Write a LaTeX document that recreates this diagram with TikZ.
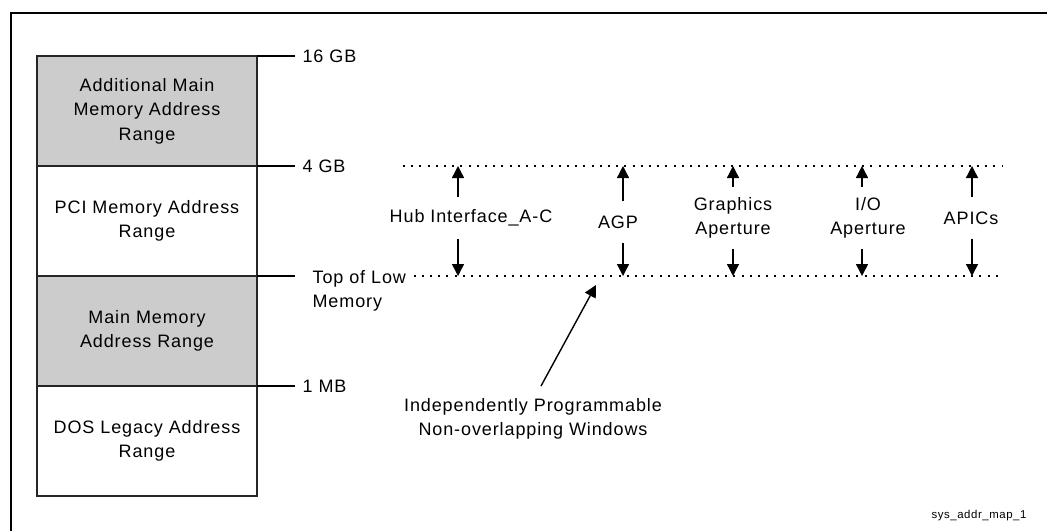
\documentclass[tikz,border=0pt]{standalone}
\usepackage{fontspec}
\setmainfont{Liberation Sans}[LetterSpace=5]
\usetikzlibrary{arrows.meta,positioning}
\definecolor{memgray}{HTML}{CCCCCC}
\begin{document}
\begin{tikzpicture}[
		x=0.5pt, y=-0.5pt,
		every node/.style = {font=\fontsize{9}{12.2}\selectfont},
		membox/.style = {draw=black!85, line width=0.8pt, minimum width=110pt, minimum height=55pt,
				inner sep=0pt, outer sep=0pt, align=center},
		ticklabel/.style = {anchor=west, inner sep=3.5pt},
		winlabel/.style = {align=center, inner xsep=2pt, inner ysep=5pt, minimum height=21pt},
		winarrow/.style = {-{Triangle[width=6pt,length=6pt]}, line width=0.7pt},
		dots/.style = {line width=0.6pt, dash pattern=on 1pt off 3.1pt},
	]
	\useasboundingbox (0,0) rectangle (1047,531);
	\draw[line width=1pt] (11,531) -- (11,13) -- (1047,13);
	% address map column
	\node[membox, fill=memgray] (addl) at (147,111) {Additional Main\\Memory Address\\Range};
	\node[membox, below=0pt of addl] (pci) {PCI Memory Address\\Range};
	\node[membox, fill=memgray, below=0pt of pci] (main) {Main Memory\\Address Range};
	\node[membox, below=0pt of main] (dos) {DOS Legacy Address\\Range};
	\draw[line width=0.6pt] (addl.north east) -- ++(38,0) node[ticklabel] (gb16) {16 GB};
	\draw[line width=0.6pt] (pci.north east) -- ++(38,0) node[ticklabel] (gb4) {4 GB};
	\draw[line width=0.6pt] (main.north east) -- ++(38,0) coordinate (lowtick)
		node[ticklabel, anchor=north west, align=left, xshift=5pt, yshift=6.8pt] (tlm) {Top of Low\\Memory};
	\draw[line width=0.6pt] (dos.north east) -- ++(38,0) node[ticklabel] (mb1) {1 MB};
	% window limits
	\coordinate (winTL) at (403,166);
	\coordinate (winTR) at (1003,166);
	\coordinate (winBR) at (1003,276);
	\draw[dots] (winTL) -- (winTR);
	\draw[dots] (tlm.east |- lowtick) -- (winBR);
	% windows
	\node[winlabel] (hub) at (471,218) {Hub Interface\_A-C};
	\coordinate (hubT) at (458,166);
	\draw[winarrow] (hub.north -| hubT) -- (hubT);
	\draw[winarrow] (hub.south -| hubT) -- (hubT |- winBR);
	\node[winlabel] (agp) at (618,222) {AGP};
	\coordinate (agpT) at (623,166);
	\draw[winarrow] (agp.north -| agpT) -- (agpT);
	\draw[winarrow] (agp.south -| agpT) -- (agpT |- winBR);
	\node[winlabel] (gfx) at (733,218) {Graphics\\Aperture};
	\coordinate (gfxT) at (733,166);
	\draw[winarrow] (gfx.north -| gfxT) -- (gfxT);
	\draw[winarrow] (gfx.south -| gfxT) -- (gfxT |- winBR);
	\node[winlabel] (io) at (868,218) {I/O\\Aperture};
	\coordinate (ioT) at (862,166);
	\draw[winarrow] (io.north -| ioT) -- (ioT);
	\draw[winarrow] (io.south -| ioT) -- (ioT |- winBR);
	\node[winlabel] (apic) at (971,218) {APICs};
	\coordinate (apicT) at (972,166);
	\draw[winarrow] (apic.north -| apicT) -- (apicT);
	\draw[winarrow] (apic.south -| apicT) -- (apicT |- winBR);
	% note
	\node[align=center, inner ysep=6pt] (indep) at (533,419) {Independently Programmable\\Non-overlapping Windows};
	\coordinate (winptr) at (596,285);
	\draw[winarrow] ([xshift=4pt]indep.north) -- (winptr);
	\node[font=\fontsize{5.7}{6}\selectfont] (tag) at (979,516) {sys\_addr\_map\_1};
\end{tikzpicture}
\end{document}
